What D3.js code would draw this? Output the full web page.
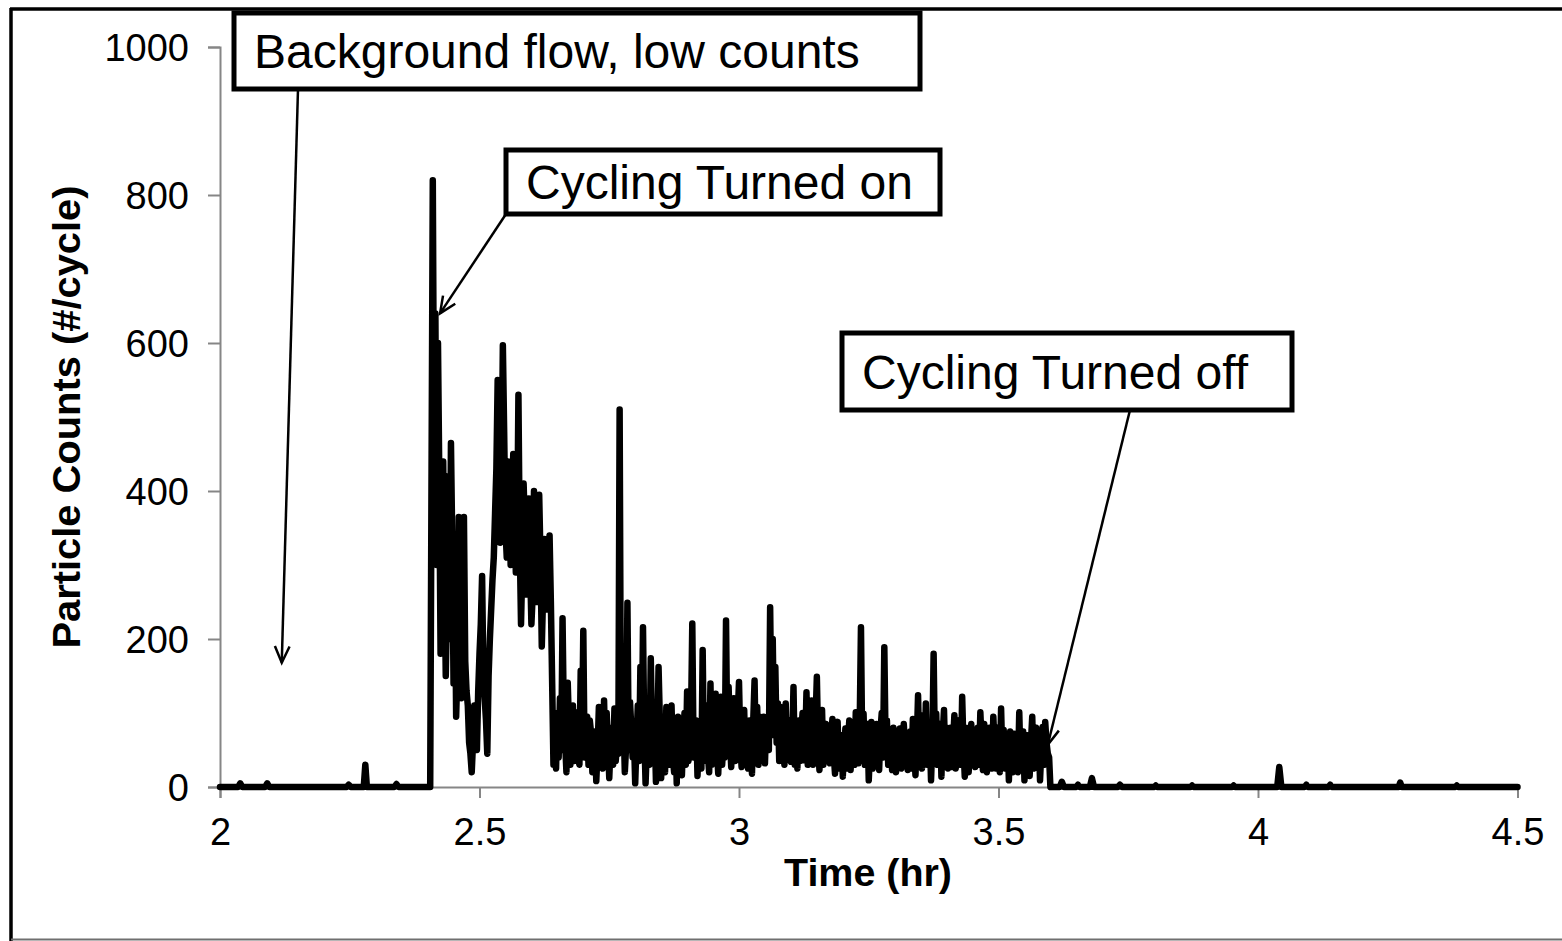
<!DOCTYPE html>
<html>
<head>
<meta charset="utf-8">
<script src="https://cdn.jsdelivr.net/npm/d3@7"></script>
<style>
  body { margin: 0; background: #fff; }
  svg { display: block; }
</style>
</head>
<body>
<script>
// background flow before cycling (sparse readings)
const preTime  = [2.000, 2.035, 2.039, 2.043, 2.087, 2.091, 2.095, 2.244, 2.248, 2.252, 2.277, 2.280, 2.283, 2.336, 2.340, 2.344, 2.405];
const preCount = [0, 0, 5, 0, 0, 5, 0, 0, 3, 0, 0, 30, 0, 0, 4, 0, 0];

// cycling on: one reading every 0.005 hr from 2.410 hr to 3.600 hr
const cycleStart = 2.410, cycleStep = 0.005;
const cycleCount = [
  820, 640, 600, 180, 440, 150, 420, 465, 140, 95,
  365, 120, 365, 130, 60, 20, 110, 50, 180, 285,
  120, 45, 200, 280, 370, 550, 330, 597, 350, 440,
  300, 450, 290, 530, 220, 410, 260, 390, 220, 400,
  250, 395, 190, 335, 240, 340, 140, 60, 100, 120,
  228, 60, 141, 30, 110, 101, 40, 157, 211, 80,
  30, 73, 40, 8, 108, 60, 117, 100, 12, 80,
  106, 60, 510, 167, 20, 249, 115, 40, 5, 110,
  162, 216, 5, 100, 174, 40, 7, 162, 12, 63,
  108, 30, 110, 20, 5, 60, 16, 100, 129, 50,
  221, 73, 15, 80, 185, 80, 45, 140, 60, 126,
  18, 122, 60, 225, 135, 27, 120, 60, 142, 27,
  104, 68, 90, 18, 144, 108, 95, 36, 32, 60,
  243, 200, 162, 113, 108, 54, 113, 60, 34, 135,
  63, 90, 75, 36, 128, 80, 117, 60, 149, 23,
  104, 63, 40, 32, 92, 18, 88, 40, 14, 79,
  60, 23, 80, 101, 32, 216, 99, 63, 9, 88,
  70, 85, 23, 100, 189, 90, 77, 23, 50, 65,
  79, 40, 54, 23, 75, 92, 16, 124, 60, 97,
  113, 40, 9, 180, 99, 50, 14, 104, 80, 54,
  27, 97, 41, 70, 122, 14, 50, 59, 40, 27,
  80, 101, 23, 60, 40, 60, 95, 25, 60, 106,
  77, 40, 9, 60, 72, 50, 101, 40, 9, 70,
  15, 95, 63, 30, 9, 81, 88, 45, 0
];

// in-between readings, every 0.005 hr from 2.4125 hr to 3.5975 hr
const midStart = 2.4125;
const midCount = [
  450, 300, 420, 330, 300, 250, 200, 330, 300, 160,
  250, 200, 170, 110, 45, 60, 90, 130, 220, 150,
  90, 150, 240, 310, 430, 440, 420, 480, 310, 400,
  350, 380, 330, 330, 300, 350, 300, 300, 260, 330,
  300, 310, 260, 300, 280, 250,
  30, 25, 40, 50,
  90, 20, 80, 70, 35, 85, 30, 60, 40, 95,
  90, 20, 75, 50, 30, 25, 40, 60, 55, 30,
  35, 45, 60, 90, 55, 50, 80, 70, 60, 35,
  45, 70, 55, 30, 75, 80, 60, 90, 85, 20,
  70, 85, 40, 80, 95, 30, 70, 30, 35, 90,
  40, 90, 60, 25, 35, 110, 20, 30, 90, 50,
  70, 30, 40, 50, 70, 90, 35, 95, 60, 85,
  30, 25, 60, 90, 40, 30, 65, 95, 90, 50,
  90, 70, 60, 35, 90, 30, 40, 90, 60, 30,
  25, 35, 100, 55, 30, 40, 30, 90, 60, 70,
  30, 85, 75, 65, 45, 60, 25, 70, 50, 25,
  90, 55, 30, 40, 80, 45, 30, 85, 50, 25,
  30, 65, 75, 40, 55, 30, 60, 80, 20, 30,
  25, 85, 70, 50, 25, 55, 60, 40, 25, 40,
  30, 75, 60, 45, 30, 85, 70, 30, 25, 80,
  60, 25, 90, 30, 55, 80, 20, 85, 70, 55,
  30, 60, 85, 20, 80, 25, 55, 80, 20, 35,
  25, 70, 75, 20, 25, 20, 30, 75, 60, 30,
  60, 25, 80, 70, 50, 30, 60, 40
];

// after cycling turned off (sparse readings)
const postTime  = [3.618, 3.622, 3.626, 3.650, 3.653, 3.656, 3.676, 3.680, 3.684, 3.730, 3.734, 3.738,
                   3.800, 3.803, 3.806, 3.870, 3.873, 3.876, 3.950, 3.953, 3.956, 4.037, 4.041, 4.045,
                   4.090, 4.093, 4.096, 4.136, 4.139, 4.142, 4.271, 4.274, 4.277, 4.380, 4.383, 4.386, 4.500];
const postCount = [0, 7, 0, 0, 3, 0, 0, 12, 0, 0, 3, 0,
                   0, 2, 0, 0, 2, 0, 0, 2, 0, 0, 27, 0,
                   0, 3, 0, 0, 3, 0, 0, 6, 0, 0, 2, 0, 0];

const xTicks = [2, 2.5, 3, 3.5, 4, 4.5];
const yTicks = [0, 200, 400, 600, 800, 1000];

// callouts: text, arrow tip in data units
const noteText = ["Background flow, low counts", "Cycling Turned on", "Cycling Turned off"];
const noteTipTime  = [2.119, 2.424, 3.595];
const noteTipCount = [168, 640, 57];

const width = 1562, height = 941;
const font = "'Liberation Sans', Arial, sans-serif";

let points = [];
preTime.forEach((t, i) => points.push({t: t, c: preCount[i]}));
cycleCount.forEach((c, i) => points.push({t: cycleStart + i * cycleStep, c: c}));
midCount.forEach((c, i) => points.push({t: midStart + i * cycleStep, c: c}));
postTime.forEach((t, i) => points.push({t: t, c: postCount[i]}));
points = d3.sort(points, d => d.t);

const x = d3.scaleLinear().domain([2, 4.5]).range([220, 1517.5]);
const y = d3.scaleLinear().domain([0, 1000]).range([787, 47]);

const svg = d3.select("body").append("svg")
    .attr("width", width)
    .attr("height", height);

// outer frame
svg.append("line").attr("x1", 11).attr("y1", 8).attr("x2", 11).attr("y2", height)
    .attr("stroke", "#000").attr("stroke-width", 3.5);
svg.append("line").attr("x1", 10).attr("y1", 9).attr("x2", width).attr("y2", 9)
    .attr("stroke", "#000").attr("stroke-width", 3.5);
svg.append("line").attr("x1", 11).attr("y1", 939.5).attr("x2", width).attr("y2", 939.5)
    .attr("stroke", "#6f6f6f").attr("stroke-width", 2);

// axes
const xAxis = d3.axisBottom(x).tickValues(xTicks).tickSize(11).tickPadding(20)
    .tickFormat(d3.format("~g"));
const yAxis = d3.axisLeft(y).tickValues(yTicks).tickSize(12).tickPadding(19)
    .tickFormat(d3.format("d"));

const gx = svg.append("g").attr("transform", "translate(0," + y(0) + ")").call(xAxis);
const gy = svg.append("g").attr("transform", "translate(" + x(2) + ",0)").call(yAxis);

[gx, gy].forEach(g => {
  g.select(".domain").attr("stroke", "#868686").attr("stroke-width", 2);
  g.selectAll(".tick line").attr("stroke", "#868686").attr("stroke-width", 2);
  g.selectAll(".tick text")
      .attr("fill", "#000")
      .style("font-family", font)
      .style("font-size", "38px");
});
gy.selectAll(".tick text").attr("dy", "0.36em");

// axis titles
svg.append("text")
    .attr("x", 868).attr("y", 886)
    .attr("text-anchor", "middle")
    .style("font-family", font).style("font-size", "38px").style("font-weight", "bold")
    .attr("textLength", 168).attr("lengthAdjust", "spacingAndGlyphs")
    .text("Time (hr)");

svg.append("text")
    .attr("transform", "translate(80,417) rotate(-90)")
    .attr("text-anchor", "middle")
    .style("font-family", font).style("font-size", "38px").style("font-weight", "bold")
    .attr("textLength", 463).attr("lengthAdjust", "spacingAndGlyphs")
    .text("Particle Counts (#/cycle)");

// data line
const line = d3.line()
    .x(d => x(d.t))
    .y(d => y(d.c))
    .curve(d3.curveLinear);

svg.append("path")
    .datum(points)
    .attr("d", line)
    .attr("fill", "none")
    .attr("stroke", "#000")
    .attr("stroke-width", 6.5)
    .attr("stroke-linejoin", "round")
    .attr("stroke-linecap", "round");

// callouts
const boxes = [
  {x: 234, y: 13, w: 686, h: 76, from: [298, 89]},
  {x: 506, y: 150, w: 434, h: 64, from: [506, 214]},
  {x: 842, y: 333, w: 450, h: 77, from: [1130, 410]}
];

boxes.forEach((b, i) => {
  const tx = x(noteTipTime[i]), ty = y(noteTipCount[i]);
  const fx = b.from[0], fy = b.from[1];
  const ang = Math.atan2(ty - fy, tx - fx);
  const head = 18, spread = 0.42;

  svg.append("line")
      .attr("x1", fx).attr("y1", fy).attr("x2", tx).attr("y2", ty)
      .attr("stroke", "#000").attr("stroke-width", 2.5);
  svg.append("path")
      .attr("d", "M" + (tx - head * Math.cos(ang - spread)) + "," + (ty - head * Math.sin(ang - spread)) +
                 "L" + tx + "," + ty +
                 "L" + (tx - head * Math.cos(ang + spread)) + "," + (ty - head * Math.sin(ang + spread)))
      .attr("fill", "none").attr("stroke", "#000").attr("stroke-width", 2.5);

  svg.append("rect")
      .attr("x", b.x).attr("y", b.y).attr("width", b.w).attr("height", b.h)
      .attr("fill", "#fff").attr("stroke", "#000").attr("stroke-width", 5);
  svg.append("text")
      .attr("x", b.x + 20).attr("y", b.y + b.h / 2)
      .attr("dy", "0.36em")
      .style("font-family", font).style("font-size", "48px")
      .text(noteText[i]);
});
</script>
</body>
</html>
